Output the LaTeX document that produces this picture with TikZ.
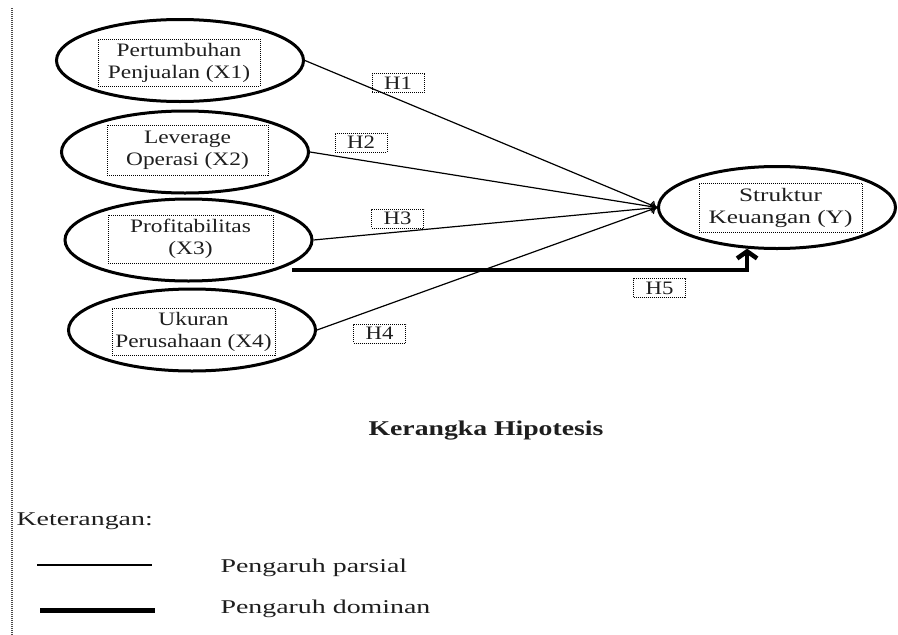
\documentclass[tikz,border=0pt]{standalone}
\usepackage{fontspec}
\setmainfont{Liberation Serif}
\newfontfamily\diagfont{Liberation Serif}[FakeStretch=1.23]
\newfontfamily\yfont{Liberation Serif}[FakeStretch=1.33]
\newfontfamily\hfont{Liberation Serif}[FakeStretch=1.2]
\newfontfamily\legfont{Liberation Serif}[FakeStretch=1.43]
\newfontfamily\titlefont{Liberation Serif}[FakeStretch=1.32]
\usetikzlibrary{shapes.geometric,arrows.meta}
\definecolor{ink}{HTML}{1E1E1E}
\begin{document}
\begin{tikzpicture}[x=1pt,y=-1pt,
  var/.style={ellipse,draw=black,line width=3pt,minimum width=247pt,minimum height=82pt,inner sep=0pt},
  tbox/.style={draw=black,dash pattern=on 1pt off 1pt,line width=0.9pt,inner sep=0pt,align=center,text=ink,font=\diagfont\fontsize{19}{22}\selectfont},
  hbox/.style={draw=black,dash pattern=on 1pt off 1pt,line width=0.9pt,inner sep=0pt,minimum width=52pt,minimum height=19pt,text=ink,font=\hfont\fontsize{19}{19}\selectfont},
  partial/.style={line width=1.2pt,-{To[length=6pt,width=10pt]}},
  dominant/.style={line width=4.5pt,-{Straight Barb[length=7pt,width=20pt]}},
  legtext/.style={anchor=base west,text=ink,font=\legfont\fontsize{19.5}{22}\selectfont}]

\useasboundingbox (0,0) rectangle (898,635);

% left dotted margin line
\coordinate (vl1) at (12,8);
\coordinate (vl2) at (12,635);
\draw[black!70,line width=1.5pt,dash pattern=on 1pt off 1pt] (vl1) -- (vl2);

% variable ellipses
\node[var] (e1) at (180,60.5) {};
\node[var] (e2) at (185,152) {};
\node[var] (e3) at (188.5,240) {};
\node[var] (e4) at (192,330) {};
\node[var,minimum width=237pt] (ey) at (777,207.5) {};

% text boxes
\node[tbox,minimum width=162pt,minimum height=47pt] (b1) at (179,62.5) {Pertumbuhan\\Penjualan (X1)};
\node[tbox,minimum width=161pt,minimum height=50pt] (b2) at (187.5,150) {Leverage\\Operasi (X2)};
\node[tbox,minimum width=165pt,minimum height=48pt] (b3) at (190.5,239) {Profitabilitas\\(X3)};
\node[tbox,minimum width=163pt,minimum height=47pt] (b4) at (193.5,331.5) {Ukuran\\Perusahaan (X4)};
\node[tbox,font=\yfont\fontsize{19}{22}\selectfont,minimum width=163pt,minimum height=49pt] (by) at (780.5,207.5) {Struktur\\Keuangan (Y)};

% partial influences
\draw[partial] (e1.east) -- (ey.west);
\draw[partial] (e2.east) -- (ey.west);
\draw[partial] (e3.east) -- (ey.west);
\draw[partial] (e4.east) -- (ey.west);

% dominant influence
\coordinate (h5s) at (292,270);
\draw[dominant] (h5s) -| (ey.234.5);

% hypothesis labels
\node[hbox] (h1) at (398,83) {H1};
\node[hbox] (h2) at (361,142.5) {H2};
\node[hbox] (h3) at (397.5,218.5) {H3};
\node[hbox] (h4) at (379.5,333.5) {H4};
\node[hbox] (h5) at (659.5,288) {H5};

% title
\node[text=ink,font=\titlefont\bfseries\fontsize{21}{24}\selectfont] (title) at (486,431) {Kerangka Hipotesis};

% legend
\node[legtext] (ket) at (13,525) {Keterangan:};
\coordinate (l1a) at (37,565);
\coordinate (l1b) at (152,565);
\draw[line width=1.2pt] (l1a) -- (l1b);
\node[legtext] (lp) at (217,572) {Pengaruh parsial};
\coordinate (l2a) at (40,610);
\coordinate (l2b) at (155,610);
\draw[line width=5pt] (l2a) -- (l2b);
\node[legtext] (ld) at (217,613) {Pengaruh dominan};
\end{tikzpicture}
\end{document}
